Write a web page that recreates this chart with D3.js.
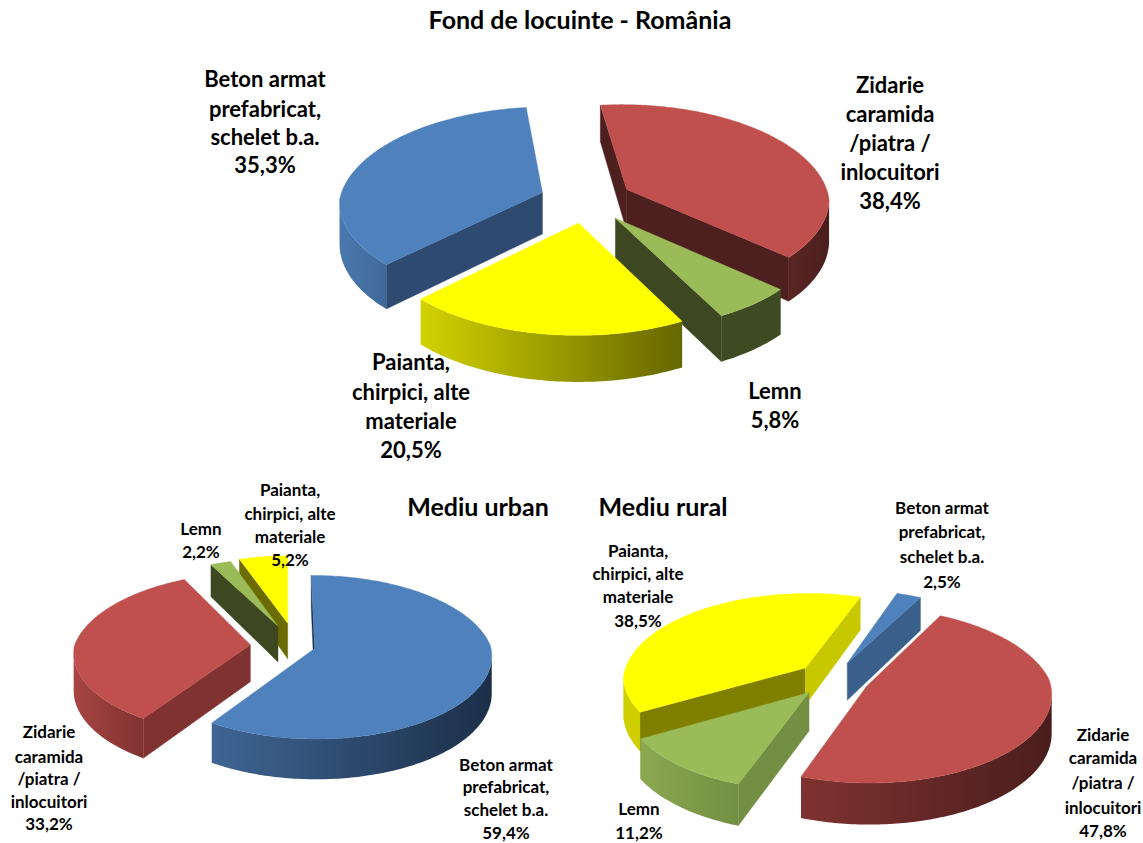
<!DOCTYPE html>
<html><head><meta charset="utf-8">
<style>html,body{margin:0;padding:0;background:#fff}svg{display:block}
text{font-family:Lato,"Open Sans",sans-serif;font-weight:700;fill:#000;text-anchor:middle}</style>
<script src="https://cdn.jsdelivr.net/npm/d3@7/dist/d3.min.js"></script>
</head><body><svg id="c" width="1143" height="843"></svg>
<script>
// ---- data ----
const mainTitle = "Fond de locuinte - România";
const categories = ["Beton armat","Zidarie","Lemn","Paianta"];
const categoryLines = {
  "Beton armat":["Beton armat","prefabricat,","schelet b.a."],
  "Zidarie":["Zidarie","caramida","/piatra /","inlocuitori"],
  "Lemn":["Lemn"],
  "Paianta":["Paianta,","chirpici, alte","materiale"]
};
// clockwise order in each pie
const orderRomania = ["Zidarie","Lemn","Paianta","Beton armat"];
const valuesRomania = [38.4,5.8,20.5,35.3];
const orderUrban = ["Beton armat","Zidarie","Lemn","Paianta"];
const valuesUrban = [59.4,33.2,2.2,5.2];
const orderRural = ["Beton armat","Zidarie","Lemn","Paianta"];
const valuesRural = [2.5,47.8,11.2,38.5];

// ---- layout / style ----
const topColor = {"Beton armat":"#4F81BD","Zidarie":"#C0504D","Lemn":"#9BBB59","Paianta":"#FFFF00"};
const pies = [
 {id:"ro",order:orderRomania,values:valuesRomania,cx:586,cy:200,R:203,tilt:.49,kFront:.08,kBack:.14,depth:42,startDeg:-7,
  explode:{"Zidarie":.23,"Lemn":.23,"Paianta":.23,"Beton armat":.23},
  arc:{"Zidarie":["#5A2624","#4A1E1D"],"Lemn":["#3D4A22","#3D4A22"],"Paianta":["#D2D200","#666600"],"Beton armat":["#4A78AE","#40699A"]},
  wallS:{"Zidarie":"#4E1F1F","Lemn":"#3D4822","Paianta":"#666600","Beton armat":"#2F4A70"},
  wallE:{"Zidarie":"#4E1F1F","Lemn":"#3D4822","Paianta":"#666600","Beton armat":"#2F4A70"},
  fontSize:22,
  labels:{"Beton armat":[265,[79,109,137,165]],"Zidarie":[890,[85,114,143,172,201]],"Paianta":[411,[362,392,421,450]],"Lemn":[775,[391,420]]}},
 {id:"ur",order:orderUrban,values:valuesUrban,cx:296,cy:646,R:176,tilt:.47,kFront:.08,kBack:.14,depth:37,startDeg:-.4,
  explode:{"Beton armat":.11,"Zidarie":.26,"Lemn":.27,"Paianta":.29},
  arc:{"Beton armat":["#3F6594","#1B2F48"],"Zidarie":["#A84543","#7F3230"],"Lemn":["#3D4822","#3D4822"],"Paianta":["#666600","#666600"]},
  wallS:{"Beton armat":"#1B2F48","Zidarie":"#7F3230","Lemn":"#3D4822","Paianta":"#6B6B00"},
  wallE:{"Beton armat":"#1B2F48","Zidarie":"#7F3230","Lemn":"#3D4822","Paianta":"#C8C800"},
  fontSize:17,
  labels:{"Paianta":[290,[490,514,537,560]],"Lemn":[201,[529,552]],"Beton armat":[506,[765,787,810,833]],"Zidarie":[49,[732,757,779,802,824]]}},
 {id:"ru",order:orderRural,values:valuesRural,cx:833,cy:679,R:183,tilt:.48,kFront:.08,kBack:.14,depth:38,startDeg:19,
  explode:{"Beton armat":.2,"Zidarie":.2,"Lemn":.2,"Paianta":.2},
  arc:{"Beton armat":["#3A5F8B","#3A5F8B"],"Zidarie":["#7F3230","#4A1E1D"],"Lemn":["#8CA851","#728F43"],"Paianta":["#CFCF00","#CFCF00"]},
  wallS:{"Beton armat":"#3A5F8B","Zidarie":"#7F3230","Lemn":"#748F43","Paianta":"#7F7F00"},
  wallE:{"Beton armat":"#3A5F8B","Zidarie":"#4A1E1D","Lemn":"#748F43","Paianta":"#C8C800"},
  fontSize:17,
  labels:{"Beton armat":[942,[508,532,557,582]],"Paianta":[638,[551,574,597,621]],"Lemn":[639,[809,833]],"Zidarie":[1103,[735,758,783,808,831]]}}
];
const headings = [
 {text:mainTitle,x:580,y:29,size:25},
 {text:"Mediu urban",x:478,y:516,size:25},
 {text:"Mediu rural",x:663,y:516,size:25}
];

// ---- drawing ----
const svg = d3.select("#c");
const defs = svg.append("defs");
const toPath = d3.line();
const fmt = v => v.toFixed(1).replace(".",",")+"%";

pies.forEach(p=>{
  const g = svg.append("g");
  const rows = p.order.map((name,i)=>({name,value:p.values[i]}));
  const sa = p.startDeg*Math.PI/180;
  const arcs = d3.pie().sort(null).value(d=>d.value).startAngle(sa).endAngle(sa+2*Math.PI)(rows);

  const project = (X,Y,z)=>{
    const s = 1/(1-(Y<0?p.kBack:p.kFront)*Y);
    return [p.cx+p.R*X*s, p.cy+p.R*Y*p.tilt*s+z*p.depth*s];
  };
  arcs.forEach(a=>{a.mid=(a.startAngle+a.endAngle)/2;a.frontness=-Math.cos(a.mid);});
  arcs.sort((a,b)=>a.frontness-b.frontness);

  arcs.forEach((a,idx)=>{
    const name=a.data.name, e=p.explode[name];
    const ox=e*Math.sin(a.mid), oy=-e*Math.cos(a.mid);
    const rim = d3.range(0,1.0001,1/Math.max(8,Math.ceil((a.endAngle-a.startAngle)*180/Math.PI)))
      .map(t=>a.startAngle+t*(a.endAngle-a.startAngle));
    const plane = th=>[ox+Math.sin(th),oy-Math.cos(th)];
    const top = rim.map(th=>{const q=plane(th);return project(q[0],q[1],0);});
    const low = rim.map(th=>{const q=plane(th);return project(q[0],q[1],1);});
    const apexT=project(ox,oy,0), apexB=project(ox,oy,1);
    const sg=g.append("g").attr("data-name",name);

    // radial walls
    if(top[0][0]<apexT[0]) sg.append("path").attr("d",toPath([apexT,top[0],low[0],apexB])+"Z").attr("fill",p.wallS[name]).attr("stroke",p.wallS[name]).attr("stroke-width",.4);
    const n=top.length-1;
    if(apexT[0]<top[n][0]) sg.append("path").attr("d",toPath([apexT,top[n],low[n],apexB])+"Z").attr("fill",p.wallE[name]).attr("stroke",p.wallE[name]).attr("stroke-width",.4);

    // outer wall: contiguous runs of segments that face the viewer
    let run=[];
    const runs=[];
    for(let i=0;i<n;i++){
      if(top[i+1][0]<top[i][0]) run.push(i);
      else if(run.length){runs.push(run);run=[];}
    }
    if(run.length) runs.push(run);
    const gid=`${p.id}-${idx}`;
    const lg=defs.append("linearGradient").attr("id",gid);
    // gradient stops listed left → right
    lg.append("stop").attr("offset",0).attr("stop-color",p.arc[name][0]);
    lg.append("stop").attr("offset",1).attr("stop-color",p.arc[name][1]);
    runs.forEach(r=>{
      const i0=r[0], i1=r[r.length-1]+1;
      const poly=top.slice(i0,i1+1).concat(low.slice(i0,i1+1).reverse());
      sg.append("path").attr("d",toPath(poly)+"Z").attr("fill",`url(#${gid})`);
    });

    // top face
    sg.append("path").attr("d",toPath([apexT].concat(top))+"Z").attr("fill",topColor[name]).attr("stroke",topColor[name]).attr("stroke-width",.4);
  });
});

// labels on top of every pie
pies.forEach(p=>{
  p.order.forEach((name,i)=>{
    const lay=p.labels[name];
    const lines=categoryLines[name].concat([fmt(p.values[i])]);
    const t=svg.append("text").attr("font-size",p.fontSize);
    lines.forEach((ln,j)=>t.append("tspan").attr("x",lay[0]).attr("y",lay[1][j]+p.fontSize*.35).text(ln));
  });
});
headings.forEach(h=>svg.append("text").attr("x",h.x).attr("y",h.y).attr("font-size",h.size).text(h.text));
</script></body></html>
